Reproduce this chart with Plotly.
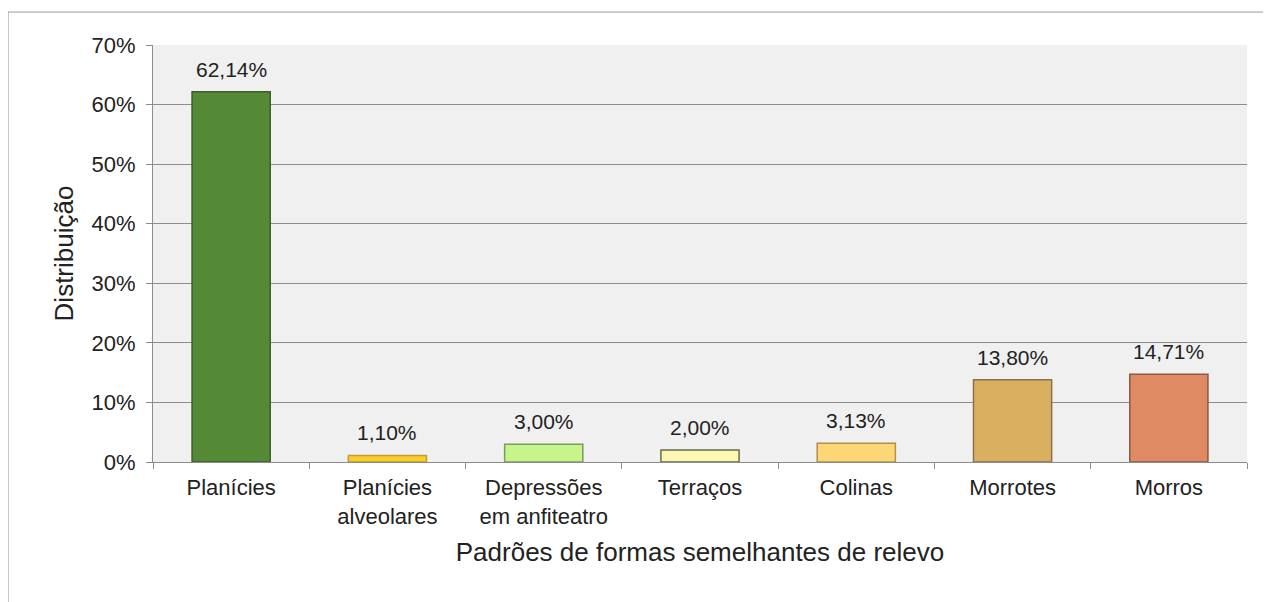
import plotly.graph_objects as go

categorias = ["Planícies", "Planícies<br>alveolares", "Depressões<br>em anfiteatro",
              "Terraços", "Colinas", "Morrotes", "Morros"]
distribuicao = [62.14, 1.10, 3.00, 2.00, 3.13, 13.80, 14.71]
cores = ["#548a35", "#f5cf2a", "#c8f58a", "#fbf7b0", "#fdd775", "#d9b060", "#df8a62"]
bordas = ["#3d5e2a", "#c89a30", "#7a9a60", "#6a6a50", "#b09050", "#8a7050", "#8a5a48"]

fonte = "Liberation Sans, Arial, sans-serif"

fig = go.Figure()
fig.add_trace(go.Bar(
    x=categorias,
    y=distribuicao,
    width=0.5,
    marker=dict(color=cores, line=dict(color=bordas, width=1.5)),
    hoverinfo="skip",
))

# rótulos de dados com vírgula decimal
for c, v in zip(categorias, distribuicao):
    fig.add_annotation(
        x=c, y=v, text=f"{v:.2f}".replace(".", ",") + "%",
        showarrow=False, yanchor="bottom", yshift=9,
        font=dict(family=fonte, size=21, color="#222"),
    )

# moldura externa (só esquerda e topo aparecem)
fig.add_shape(type="line", xref="paper", yref="paper",
              x0=-0.1325, x1=1.05, y0=1.079, y1=1.079,
              line=dict(color="#999", width=1))
fig.add_shape(type="line", xref="paper", yref="paper",
              x0=-0.1325, x1=-0.1325, y0=1.079, y1=-0.4,
              line=dict(color="#999", width=1))

fig.update_layout(
    width=1263, height=594,
    margin=dict(l=145, r=24, t=37, b=140),
    paper_bgcolor="white",
    plot_bgcolor="#f0f0f0",
    showlegend=False,
    font=dict(family=fonte, size=22, color="#222"),
    bargap=0.5,
)
fig.update_yaxes(
    range=[0, 70], dtick=10, ticksuffix="%",
    showgrid=True, gridcolor="#8c8c8c", gridwidth=1,
    showline=True, linecolor="#8c8c8c", linewidth=1,
    ticks="outside", ticklen=6, tickcolor="#8c8c8c",
    ticklabelstandoff=6,
    zeroline=False,
    title=dict(text="Distribuição", font=dict(size=26), standoff=10),
)
fig.update_xaxes(
    showline=True, linecolor="#8c8c8c", linewidth=1,
    ticks="outside", tickson="boundaries", ticklen=6, tickcolor="#8c8c8c",
    ticklabelstandoff=6,
    tickfont=dict(size=22),
    title=dict(text="Padrões de formas semelhantes de relevo", font=dict(size=26), standoff=14),
)

fig.write_html("out.html")
